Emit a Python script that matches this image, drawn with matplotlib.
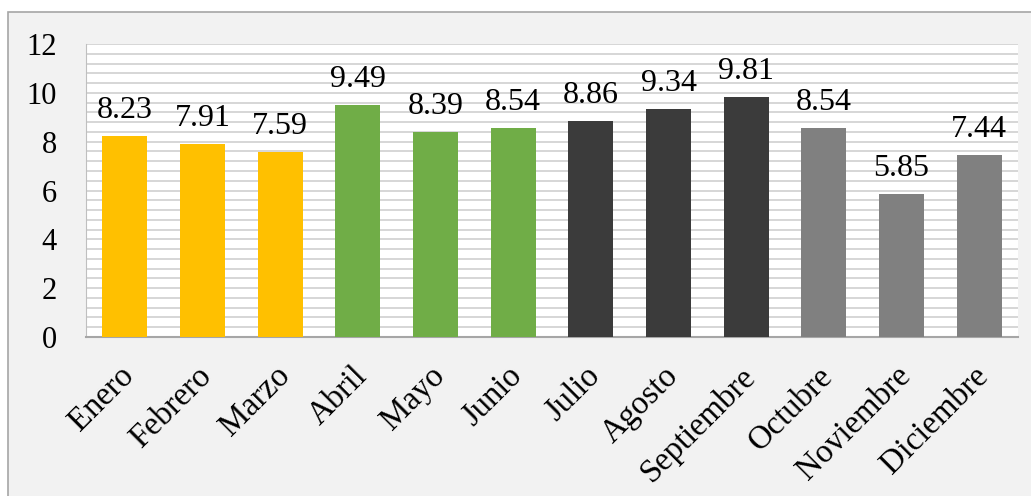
import matplotlib.pyplot as plt
from matplotlib.patches import Rectangle
from matplotlib.transforms import ScaledTranslation
import numpy as np

meses = ["Enero", "Febrero", "Marzo", "Abril", "Mayo", "Junio", "Julio",
         "Agosto", "Septiembre", "Octubre", "Noviembre", "Diciembre"]
valores = [8.23, 7.91, 7.59, 9.49, 8.39, 8.54, 8.86, 9.34, 9.81, 8.54, 5.85, 7.44]
colores = ["#FFC000"] * 3 + ["#70AD47"] * 3 + ["#3B3B3B"] * 3 + ["#808080"] * 3

plt.rcParams['font.family'] = ['Liberation Serif', 'DejaVu Serif']

fig = plt.figure(figsize=(10.31, 4.96), dpi=100)
fig.patch.set_facecolor("white")
# outer chart area frame
frame = Rectangle((8 / 1031, -0.1), 1.1, 1 - 12 / 496 + 0.1,
                  transform=fig.transFigure, facecolor="#F2F2F2",
                  edgecolor="#A6A6A6", linewidth=1.2, zorder=-10)
fig.add_artist(frame)

ax = fig.add_axes([86 / 1031, 1 - 337 / 496, (1018 - 86) / 1031, (337 - 44) / 496])
ax.set_facecolor("white")

x = np.arange(len(meses))
bars = ax.bar(x, valores, width=0.58, color=colores, zorder=3)
ax.bar_label(bars, labels=[f"{v:.2f}" for v in valores], padding=8, fontsize=23)

ax.set_xlim(-0.5, len(meses) - 0.5)
ax.set_ylim(0, 12)
ax.set_yticks(np.arange(0, 13, 2))
ax.set_yticks(np.arange(0, 12.01, 0.4), minor=True)
ax.grid(axis="y", which="both", color="#D0D0D0", linewidth=1.2, zorder=0)
ax.set_axisbelow(True)

ax.tick_params(axis="y", which="both", length=0, labelsize=22, pad=21)
ax.tick_params(axis="x", length=0, labelsize=23.5, pad=17)
ax.set_xticks(x)
ax.set_xticklabels(meses, rotation=45, ha="right", rotation_mode="anchor")
shift = ScaledTranslation(-6 / 100, 0, fig.dpi_scale_trans)
for lbl in ax.get_xticklabels():
    lbl.set_transform(lbl.get_transform() + shift)

for s in ["top", "right"]:
    ax.spines[s].set_visible(False)
ax.spines["left"].set_color("#BFBFBF")
ax.spines["bottom"].set_color("#A6A6A6")
ax.spines["bottom"].set_linewidth(1.5)

fig.savefig("out.png", dpi=100)
